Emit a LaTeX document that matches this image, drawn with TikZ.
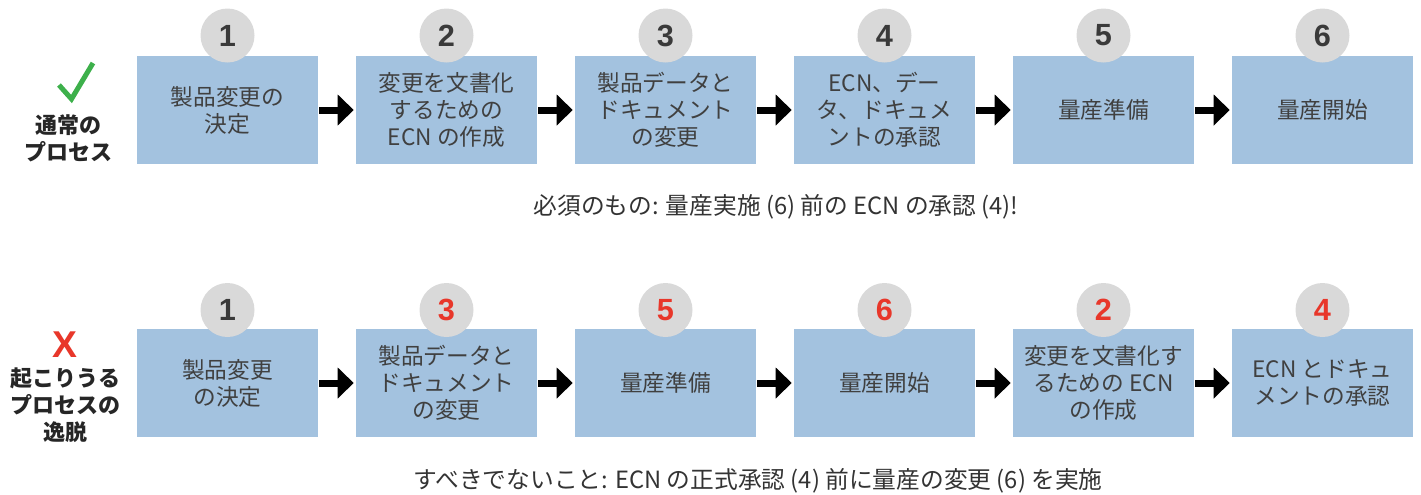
\documentclass[tikz,border=0pt]{standalone}
\usepackage{fontspec}
\setmainfont{Noto Sans CJK JP}
\newfontfamily\numfont{Liberation Sans}
\usetikzlibrary{arrows.meta}
\definecolor{boxblue}{HTML}{A3C2DF}
\definecolor{circgrey}{HTML}{D9D9D9}
\definecolor{txtgrey}{HTML}{404040}
\definecolor{numgrey}{HTML}{3A3A3A}
\definecolor{numred}{HTML}{E8372A}
\definecolor{okgreen}{HTML}{3DB04B}
\definecolor{capgrey}{HTML}{333333}
\definecolor{lblgrey}{HTML}{262626}
\begin{document}
\begin{tikzpicture}[x=0.75pt,y=-0.75pt,
  stepbox/.style={fill=boxblue, minimum width=135.75pt, minimum height=81pt, inner sep=0pt,
    align=center, text=txtgrey, font=\fontsize{17}{20.25}\selectfont},
  numcirc/.style={circle, fill=circgrey, minimum size=40.5pt, inner sep=0pt,
    font=\numfont\bfseries\fontsize{23}{23}\selectfont, text=numgrey},
  rednum/.style={numcirc, text=numred},
  flow/.style={line width=5.25pt, -{Triangle[length=12pt,width=22.5pt]}, shorten <=0.75pt, shorten >=1.5pt},
  sidelabel/.style={align=center, text=lblgrey, font=\bfseries\fontsize{16.5}{20.25}\selectfont},
  caption/.style={text=capgrey, font=\fontsize{17.8}{21}\selectfont}
]
\useasboundingbox (0,0) rectangle (1421,494);

% ---------- top row ----------
\node[stepbox] (t1) at (227.5,110) {製品変更の\\決定};
\node[stepbox] (t2) at (446.5,110) {変更を文書化\\するための\\ECN の作成};
\node[stepbox] (t3) at (665.5,110) {製品データと\\ドキュメント\\の変更};
\node[stepbox] (t4) at (884.5,110) {ECN、デー\\タ、ドキュメ\\ントの承認};
\node[stepbox] (t5) at (1103.5,110) {量産準備};
\node[stepbox] (t6) at (1322.5,110) {量産開始};

\node[numcirc] (tc1) at (227.5,35.5) {1};
\node[numcirc] (tc2) at (446.5,35.5) {2};
\node[numcirc] (tc3) at (665.5,35.5) {3};
\node[numcirc] (tc4) at (884.5,35.5) {4};
\node[numcirc] (tc5) at (1103.5,35.5) {5};
\node[numcirc] (tc6) at (1322.5,35.5) {6};

\draw[flow] (t1.east) -- (t2.west);
\draw[flow] (t2.east) -- (t3.west);
\draw[flow] (t3.east) -- (t4.west);
\draw[flow] (t4.east) -- (t5.west);
\draw[flow] (t5.east) -- (t6.west);

\draw[okgreen, line width=3.75pt, line join=miter] (59,85) -- (71.5,99) -- (93,63);
\node[sidelabel] (okl) at (68,138.5) {通常の\\プロセス};

\node[caption] (cap1) at (776,207) {必須のもの: 量産実施 (6) 前の ECN の承認 (4)!};

% ---------- bottom row ----------
\node[stepbox] (b1) at (227.5,383) {製品変更\\の決定};
\node[stepbox] (b2) at (446.5,383) {製品データと\\ドキュメント\\の変更};
\node[stepbox] (b3) at (665.5,383) {量産準備};
\node[stepbox] (b4) at (884.5,383) {量産開始};
\node[stepbox] (b5) at (1103.5,383) {変更を文書化す\\るための ECN\\の作成};
\node[stepbox] (b6) at (1322.5,383) {ECN とドキュ\\メントの承認};

\node[numcirc] (bc1) at (227.5,310) {1};
\node[rednum] (bc2) at (446.5,310) {3};
\node[rednum] (bc3) at (665.5,310) {5};
\node[rednum] (bc4) at (884.5,310) {6};
\node[rednum] (bc5) at (1103.5,310) {2};
\node[rednum] (bc6) at (1322.5,310) {4};

\draw[flow] (b1.east) -- (b2.west);
\draw[flow] (b2.east) -- (b3.west);
\draw[flow] (b3.east) -- (b4.west);
\draw[flow] (b4.east) -- (b5.west);
\draw[flow] (b5.east) -- (b6.west);

\node[text=numred, font=\numfont\bfseries\fontsize{28}{28}\selectfont] (xmark) at (65,345) {X};
\node[sidelabel] (badl) at (65,405) {起こりうる\\プロセスの\\逸脱};

\node[caption] (cap2) at (758,481) {すべきでないこと: ECN の正式承認 (4) 前に量産の変更 (6) を実施};
\end{tikzpicture}
\end{document}
